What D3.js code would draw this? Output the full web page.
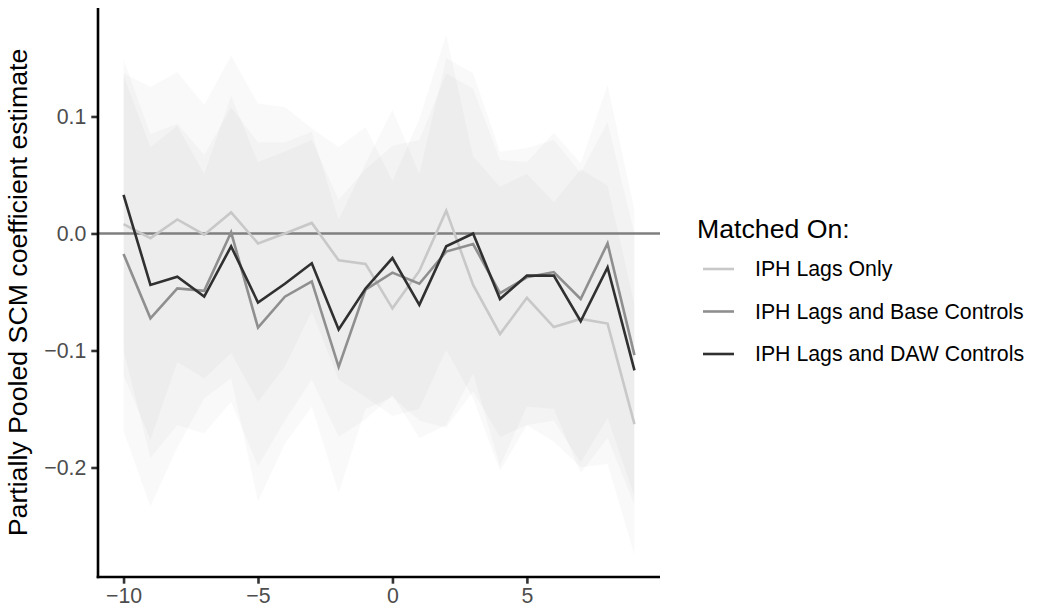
<!DOCTYPE html>
<html>
<head>
<meta charset="utf-8">
<script src="https://cdn.jsdelivr.net/npm/d3@7"></script>
<style>
body { margin: 0; background: #fff; }
svg { font-family: "Liberation Sans", Arial, sans-serif; }
</style>
</head>
<body>
<svg id="chart" width="1037" height="609"></svg>
<script>
'use strict';

// event time (lag) on the x axis
var lags = [-10, -9, -8, -7, -6, -5, -4, -3, -2, -1, 0, 1, 2, 3, 4, 5, 6, 7, 8, 9];

var seriesNames = ["IPH Lags Only", "IPH Lags and Base Controls", "IPH Lags and DAW Controls"];
var seriesColors = ["#c8c8c8", "#8f8f8f", "#303030"];

// point estimates
var lagsOnlyEst = [0.008, -0.004, 0.012, -0.001, 0.018, -0.0085, 0.0, 0.009, -0.023, -0.026,
    -0.064, -0.032, 0.0195, -0.044, -0.086, -0.055, -0.080, -0.073, -0.077, -0.163];
var baseEst = [-0.0175, -0.0725, -0.047, -0.049, 0.001, -0.0805, -0.054, -0.041, -0.114, -0.048,
    -0.0335, -0.043, -0.0155, -0.009, -0.051, -0.0375, -0.033, -0.056, -0.0085, -0.104];
var dawEst = [0.033, -0.044, -0.037, -0.054, -0.011, -0.059, -0.043, -0.0255, -0.082, -0.047,
    -0.021, -0.061, -0.011, 0.0, -0.056, -0.036, -0.036, -0.075, -0.029, -0.117];

// interval bounds (ribbons)
var lagsOnlyLower = [-0.121, -0.1765, -0.11, -0.124, -0.1024, -0.144, -0.114, -0.067, -0.125, -0.14,
    -0.156, -0.15, -0.0996, -0.141, -0.203, -0.164, -0.178, -0.2, -0.197, -0.275];
var lagsOnlyUpper = [0.137, 0.1255, 0.138, 0.110, 0.152, 0.111, 0.108, 0.090, 0.074, 0.091,
    0.045, 0.098, 0.170, 0.066, 0.040, 0.051, 0.027, 0.055, 0.041, -0.06];
var baseLower = [-0.169, -0.2335, -0.183, -0.141, -0.124, -0.229, -0.18, -0.148, -0.222, -0.15,
    -0.14, -0.16, -0.166, -0.135, -0.174, -0.164, -0.16, -0.196, -0.158, -0.225];
var baseUpper = [0.135, 0.074, 0.092, 0.051, 0.118, 0.061, 0.07, 0.08, 0.029, 0.055,
    0.075, 0.08, 0.137, 0.124, 0.063, 0.061, 0.086, 0.06, 0.127, 0.02];
var dawLower = [-0.10, -0.192, -0.164, -0.171, -0.144, -0.199, -0.16, -0.125, -0.174, -0.159,
    -0.138, -0.175, -0.164, -0.12, -0.199, -0.148, -0.15, -0.205, -0.175, -0.232];
var dawUpper = [0.149, 0.085, 0.094, 0.067, 0.108, 0.078, 0.078, 0.087, 0.012, 0.06,
    0.106, 0.051, 0.15, 0.137, 0.07, 0.073, 0.08, 0.052, 0.0955, 0.0];

var xTicks = [-10, -5, 0, 5];
var yTicks = [-0.2, -0.1, 0.0, 0.1];

const PANEL = {left: 98, right: 660, top: 8, bottom: 577};

var svg = d3.select("#chart");

var x = d3.scaleLinear()
    .domain([-10.95, 9.95])
    .range([PANEL.left, PANEL.right]);

var y = d3.scaleLinear()
    .domain([-0.2936, 0.1927])
    .range([PANEL.bottom, PANEL.top]);

var series = [
    {name: seriesNames[0], color: seriesColors[0], est: lagsOnlyEst, lo: lagsOnlyLower, hi: lagsOnlyUpper},
    {name: seriesNames[1], color: seriesColors[1], est: baseEst, lo: baseLower, hi: baseUpper},
    {name: seriesNames[2], color: seriesColors[2], est: dawEst, lo: dawLower, hi: dawUpper}
];

var area = d3.area()
    .x(function (d) { return x(d.lag); })
    .y0(function (d) { return y(d.lo); })
    .y1(function (d) { return y(d.hi); });

var line = d3.line()
    .x(function (d) { return x(d.lag); })
    .y(function (d) { return y(d.est); });

function rows(s) {
    return lags.map(function (lag, i) {
        return {lag: lag, est: s.est[i], lo: s.lo[i], hi: s.hi[i]};
    });
}

// ribbons
svg.append("g").selectAll("path")
    .data(series)
    .enter()
    .append("path")
    .attr("d", function (s) { return area(rows(s)); })
    .attr("fill", "#000")
    .attr("fill-opacity", 0.022);

// zero reference
svg.append("line")
    .attr("x1", PANEL.left)
    .attr("x2", PANEL.right)
    .attr("y1", y(0))
    .attr("y2", y(0))
    .attr("stroke", "#7f7f7f")
    .attr("stroke-width", 2.6);

svg.append("g").selectAll("path")
    .data(series)
    .enter()
    .append("path")
    .attr("d", function (s) { return line(rows(s)); })
    .attr("fill", "none")
    .attr("stroke", function (s) { return s.color; })
    .attr("stroke-width", 2.6)
    .attr("stroke-linejoin", "miter");

// axes
var yAxis = svg.append("g")
    .attr("transform", "translate(" + PANEL.left + ",0)")
    .call(d3.axisLeft(y).tickValues(yTicks).tickFormat(d3.format(".1f"))
        .tickSize(6.7).tickSizeOuter(0).tickPadding(5));
var xAxis = svg.append("g")
    .attr("transform", "translate(0," + PANEL.bottom + ")")
    .call(d3.axisBottom(x).tickValues(xTicks).tickFormat(d3.format("d"))
        .tickSize(6.7).tickSizeOuter(0).tickPadding(4));

[yAxis, xAxis].forEach(function (g) {
    g.select(".domain").remove();
    g.selectAll(".tick line").attr("stroke", "#333").attr("stroke-width", 2.6);
    g.selectAll(".tick text")
        .attr("fill", "#4d4d4d")
        .style("font-size", "21.3px");
});

svg.append("line")
    .attr("x1", PANEL.left).attr("x2", PANEL.left)
    .attr("y1", PANEL.top).attr("y2", PANEL.bottom + 1.3)
    .attr("stroke", "#000").attr("stroke-width", 2.6);
svg.append("line")
    .attr("x1", PANEL.left - 1.3).attr("x2", PANEL.right)
    .attr("y1", PANEL.bottom).attr("y2", PANEL.bottom)
    .attr("stroke", "#000").attr("stroke-width", 2.6);

svg.append("text")
    .attr("transform", "translate(27," + ((PANEL.top + PANEL.bottom) / 2) + ") rotate(-90)")
    .attr("text-anchor", "middle")
    .style("font-size", "26.7px")
    .attr("fill", "#000")
    .text("Partially Pooled SCM coefficient estimate");

// legend
var legend = svg.append("g").attr("transform", "translate(697,0)");
legend.append("text")
    .attr("x", 0)
    .attr("y", 238)
    .style("font-size", "26.7px")
    .text("Matched On:");

var item = legend.selectAll(".item")
    .data(series)
    .enter()
    .append("g")
    .attr("class", "item")
    .attr("transform", function (d, i) { return "translate(0," + (269 + i * 42.5) + ")"; });
item.append("line")
    .attr("x1", 6).attr("x2", 37)
    .attr("stroke", function (d) { return d.color; })
    .attr("stroke-width", 2.6);
item.append("text")
    .attr("x", 58)
    .attr("dy", "0.35em")
    .style("font-size", "21.3px")
    .text(function (d) { return d.name; });
</script>
</body>
</html>
